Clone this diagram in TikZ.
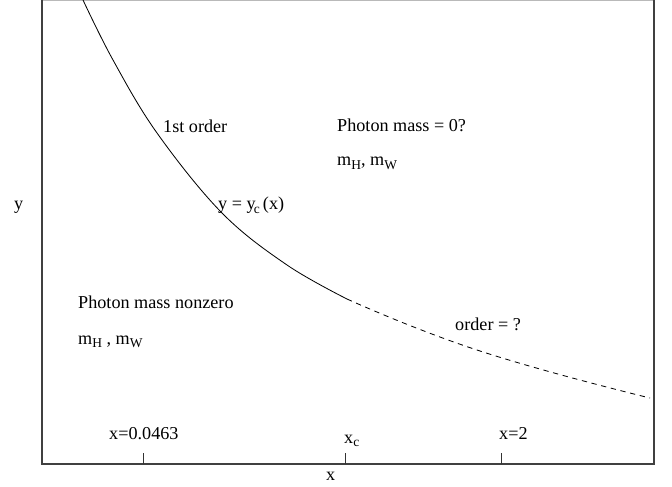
\documentclass[tikz,border=0pt]{standalone}
\usepackage{fontspec}
\setmainfont{Liberation Serif}
\usetikzlibrary{positioning}
\newcommand{\lowsub}[1]{\raisebox{-0.45ex}{\fontsize{11.5}{12}\selectfont #1}}

\begin{document}
\begin{tikzpicture}[
		x=0.03cm, y=-0.03cm,
		lbl/.style={anchor=base west, inner sep=0pt, font=\fontsize{15.5}{18}\selectfont},
		axis/.style={line width=1pt, black!75},
		tick/.style={line width=0.8pt, black!80}
	]
		\useasboundingbox (0,0) rectangle (672,487);

		% ===== Frame =====
		\draw[line width=0.8pt, gray!55] (42,0.4) -- (654,0.4);
		\draw[axis] (42,0) -- (42,464) -- (654,464) -- (654,0);

		% ===== Ticks on the x axis =====
		\foreach \tx in {143, 345, 501}
			\draw[tick] (\tx,464) -- (\tx,453);

		% ===== Critical line y = y_c(x) =====
		\draw[line width=0.7pt] plot[smooth, tension=0.6] coordinates
			{(83,0) (113,60) (157,133) (222,213) (287,265) (347,299)};
		\draw[line width=0.7pt, dash pattern=on 4.5pt off 4pt] plot[smooth, tension=0.8] coordinates
			{(347,299) (480,351) (650,398)};

		% ===== Region labels =====
		\node[lbl] (first) at (163,133) {1st order};
		\node[lbl] (zero) at (337,132) {Photon mass = 0?};
		\node[lbl] (massU) at (337,166) {m\lowsub{H}, m\lowsub{W}};
		\node[lbl] (yc) at (218,210) {y = y\kern-1.5pt\lowsub{c}\,(x)};
		\node[lbl] (nonzero) at (78,309) {Photon mass nonzero};
		\node[lbl] (massL) at (78,344) {m\lowsub{H} , m\lowsub{W}};
		\node[lbl] (order) at (455,330) {order = ?};

		% ===== Tick labels =====
		\node[lbl] (xa) at (109,439) {x=0.0463};
		\node[lbl] (xc) at (344,443) {x\lowsub{c}};
		\node[lbl] (xb) at (499,439) {x=2};

		% ===== Axis labels =====
		\node[lbl] (xlab) at (326,480) {x};
		\node[lbl] (ylab) at (14,210) {y};
	\end{tikzpicture}
\end{document}
